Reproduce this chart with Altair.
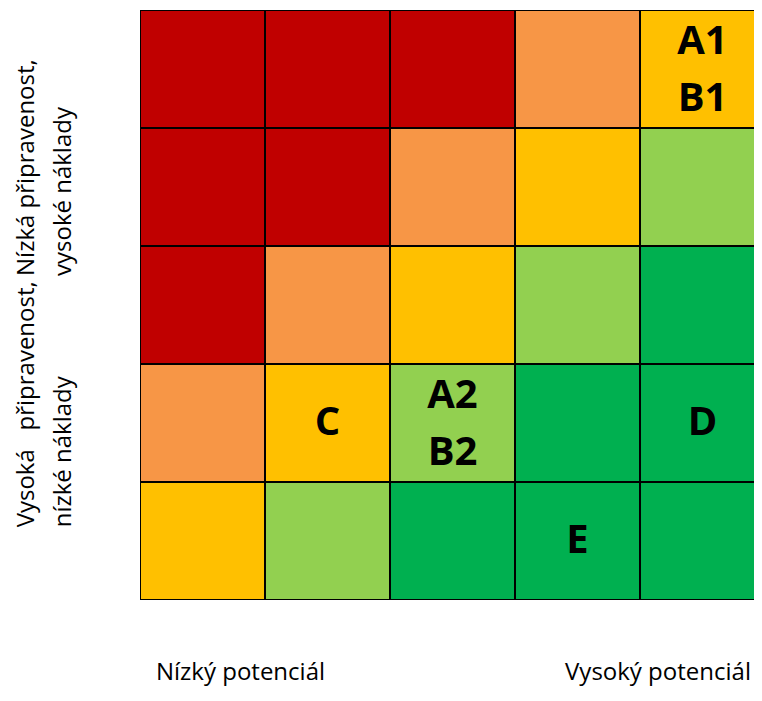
import json
import altair as alt
import pandas as pd

title_text = "Obrázek 4: Ohuda potenciálu a připravenosti produktu v k"

palette_keys = ["červená", "oranžová", "žlutá", "světle zelená", "zelená"]
palette_colors = ["#C00000", "#F79646", "#FFC000", "#92D050", "#00B050"]

# rows from top to bottom, columns from left to right (index into palette)
cell_levels = [
    [0, 0, 0, 1, 2],
    [0, 0, 1, 2, 3],
    [0, 1, 2, 3, 4],
    [1, 2, 3, 4, 4],
    [2, 3, 4, 4, 4],
]
cell_labels = [
    ["", "", "", "", "A1\nB1"],
    ["", "", "", "", ""],
    ["", "", "", "", ""],
    ["", "C", "A2\nB2", "", "D"],
    ["", "", "", "E", ""],
]

x_tick_labels = ["Nízký potenciál", "Vysoký potenciál"]
x_tick_values = [0.8, 4.14]
y_tick_labels = [
    ["Nízká připravenost,", "vysoké náklady"],
    ["Vysoká\u00a0\u00a0 připravenost,", "nízké náklady"],
]
y_tick_values = [2.25, 4.38]

records = []
for r, row in enumerate(cell_levels):
    for c, lev in enumerate(row):
        records.append({
            "r0": r, "r1": r + 1, "c0": c, "c1": c + 1,
            "cy": r + 0.5, "cx": c + 0.5,
            "level": palette_keys[lev],
            "label": cell_labels[r][c],
            "lines": cell_labels[r][c].count("\n") + 1,
        })
df = pd.DataFrame(records)
df_one = df[(df["label"] != "") & (df["lines"] == 1)]
df_two = df[(df["label"] != "") & (df["lines"] == 2)]

xs = alt.Scale(domain=[0, 5], range=[0, 625], nice=False, zero=False)
ys = alt.Scale(domain=[0, 5], range=[0, 590], nice=False, zero=False)

x_expr = f"datum.value < 2.5 ? {json.dumps(x_tick_labels[0], ensure_ascii=False)} : {json.dumps(x_tick_labels[1], ensure_ascii=False)}"
y_expr = f"datum.value < 3 ? {json.dumps(y_tick_labels[0], ensure_ascii=False)} : {json.dumps(y_tick_labels[1], ensure_ascii=False)}"

x_axis = alt.Axis(
    values=x_tick_values, labelExpr=x_expr, labelAngle=0, labelAlign="center",
    labelBaseline="alphabetic", labelPadding=79, labelFontSize=24, labelFont="Open Sans",
    labelColor="black", labelLimit=400, labelOverlap=False, labelFlush=False,
    ticks=False, tickSize=0, domain=False, grid=False, title=None,
)
y_axis = alt.Axis(
    values=y_tick_values, labelExpr=y_expr, labelAngle=270, labelAlign="left",
    labelBaseline="alphabetic", labelPadding=107, labelFontSize=24, labelFont="Open Sans",
    labelColor="black", labelLineHeight=37, labelLimit=400, labelOverlap=False,
    labelFlush=False, ticks=False, tickSize=0, domain=False, grid=False, title=None,
)

rect = alt.Chart(df).mark_rect(stroke="black", strokeWidth=2, clip=True).encode(
    x=alt.X("c0:Q", scale=xs, axis=x_axis),
    x2="c1:Q",
    y=alt.Y("r0:Q", scale=ys, axis=y_axis),
    y2="r1:Q",
    color=alt.Color("level:N", scale=alt.Scale(domain=palette_keys, range=palette_colors), legend=None),
)

text_style = dict(
    font="Open Sans", fontSize=40, fontWeight="bold", lineBreak="\n", lineHeight=57,
    baseline="middle", align="center", color="black", clip=True,
)
text1 = alt.Chart(df_one).mark_text(**text_style).encode(
    x=alt.X("cx:Q"), y=alt.Y("cy:Q"), text="label:N",
)
text2 = alt.Chart(df_two).mark_text(dy=-27, **text_style).encode(
    x=alt.X("cx:Q"), y=alt.Y("cy:Q"), text="label:N",
)

chart = alt.layer(rect, text1, text2).properties(
    width=614,
    height=590,
    padding={"left": 132, "top": 2, "right": 0, "bottom": 88},
    autosize=alt.AutoSizeParams(type="none"),
    title=alt.TitleParams(
        text=title_text, anchor="start", font="Open Sans", fontSize=20, fontWeight="bold",
        color="black", baseline="alphabetic", offset=6, dx=-107,
    ),
).configure_view(strokeWidth=0)

chart.save("out.html", embed_options={"renderer": "svg", "actions": False})
